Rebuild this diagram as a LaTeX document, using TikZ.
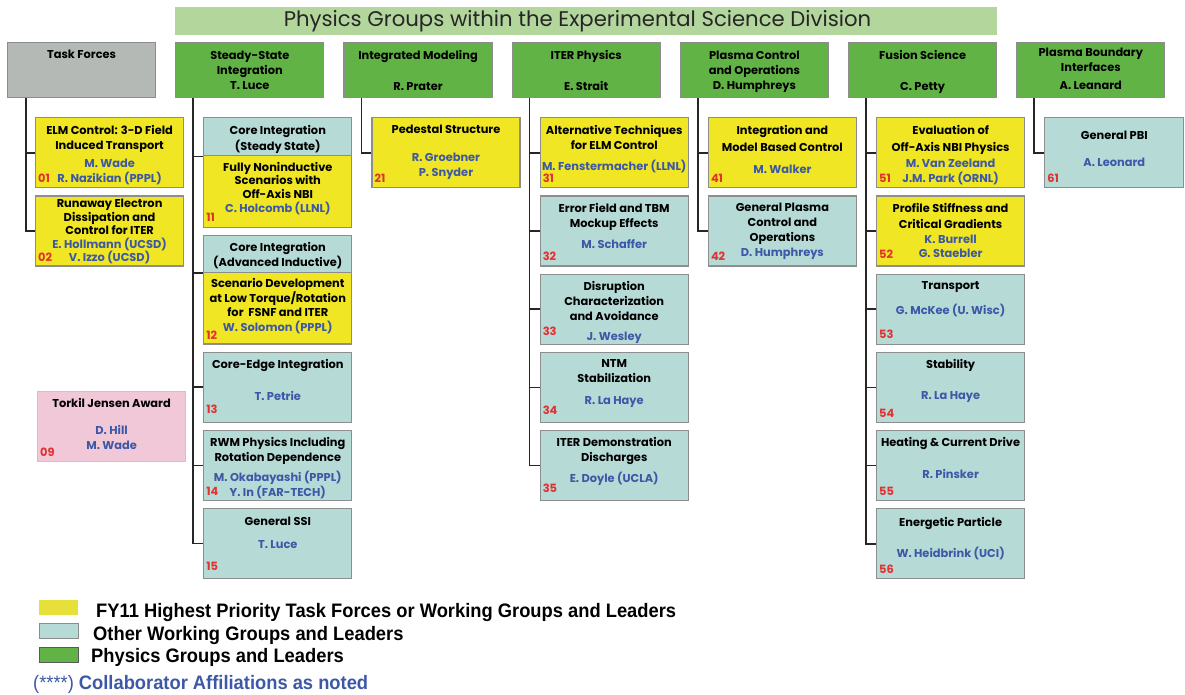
\documentclass[tikz,border=0pt]{standalone}
\usepackage{fontspec}
\setmainfont{Poppins}
\newfontfamily\narrowsans{Liberation Sans}[FakeStretch=0.94]
\usetikzlibrary{positioning}

\definecolor{grpgreen}{RGB}{98,179,70}
\definecolor{barlight}{RGB}{179,214,157}
\definecolor{tfyellow}{RGB}{240,230,35}
\definecolor{keyyellow}{RGB}{232,224,58}
\definecolor{wgcyan}{RGB}{182,218,214}
\definecolor{tfgray}{RGB}{180,185,182}
\definecolor{awpink}{RGB}{240,200,216}
\definecolor{boxline}{RGB}{141,141,141}
\definecolor{nameblue}{RGB}{60,88,166}
\definecolor{numred}{RGB}{227,48,48}

\begin{document}
\begin{tikzpicture}[x=1pt, y=-1pt, font=\fontsize{11.4}{15}\selectfont\bfseries,
	node distance = 7pt and 19pt, % vertical and horizontal
	grp/.style = {rectangle, draw=boxline, line width=1.2pt, fill=grpgreen,
		minimum width=148pt, minimum height=55pt, inner sep=0pt},
	wg/.style = {rectangle, draw=boxline, line width=1.2pt,
		minimum width=148pt, minimum height=70pt, inner sep=0pt},
	ttl/.style = {anchor=north, align=center, inner sep=0pt, yshift=-7.5pt},
	tight/.style = {font=\fontsize{11.4}{13.5}\selectfont\bfseries},
	num/.style = {anchor=base west, text=numred, inner sep=0pt, xshift=3pt, yshift=6pt},
	link/.style = {draw=black!85, line width=1.5pt},
	swatch/.style = {rectangle, minimum width=39pt, minimum height=15pt, inner sep=0pt, anchor=north west},
	key/.style = {anchor=base west, inner sep=0pt, font=\narrowsans\fontsize{19.5}{21}\selectfont\bfseries}
	]

	\useasboundingbox (0,0) rectangle (1185,694);

	% --- Title ---
	\node[fill=barlight, minimum width=822pt, minimum height=28pt, inner sep=0pt,
		font=\fontsize{21.2}{24}\selectfont\mdseries, text=black!85] (title) at (586,21)
		{Physics Groups within the Experimental Science Division\hspace*{17pt}};

	% --- Physics groups ---
	\node[grp, fill=tfgray, anchor=north west, label={[ttl]north:Task Forces}] (tf) at (7,42) {};
	\node[grp, right=of tf, label={[ttl, yshift=-1pt]north:{Steady-State\\ Integration\\ T. Luce}}] (ss) {};
	\node[grp, right=of ss, label={[ttl, yshift=-1pt]north:{Integrated Modeling\\[16pt] R. Prater}}] (im) {};
	\node[grp, right=of im, label={[ttl, yshift=-1pt]north:{ITER Physics\\[16pt] E. Strait}}] (iter) {};
	\node[grp, right=of iter, label={[ttl, yshift=-1pt]north:{Plasma Control\\ and Operations\\ D. Humphreys}}] (pco) {};
	\node[grp, right=of pco, label={[ttl, yshift=-1pt]north:{Fusion Science\\[16pt] C. Petty}}] (fs) {};
	\node[grp, right=of fs, label={[ttl, yshift=2pt]north:{Plasma Boundary\\ Interfaces\\[3.5pt] A. Leanard}}] (pbi) {};

	% --- Task forces ---
	\node[wg, fill=tfyellow, below right=19pt and 28pt of tf.south west,
		label={[ttl]north:{ELM Control: 3-D Field\\ Induced Transport\\[3pt] \textcolor{nameblue}{M. Wade}\\ \textcolor{nameblue}{R. Nazikian (PPPL)}}},
		label={[num]south west:01}] (elm) {};
	\node[wg, fill=tfyellow, below=of elm,
		label={[ttl, tight, yshift=4pt]north:{Runaway Electron\\ Dissipation and\\ Control for ITER\\ \textcolor{nameblue}{E. Hollmann (UCSD)}\\ \textcolor{nameblue}{V. Izzo (UCSD)}}},
		label={[num, yshift=-1pt]south west:02}] (rea) {};
	\node[wg, fill=awpink, draw=gray!45, anchor=north west,
		label={[ttl]north:{Torkil Jensen Award\\[12pt] \textcolor{nameblue}{D. Hill}\\ \textcolor{nameblue}{M. Wade}}},
		label={[num]south west:09}] (tja) at (37,391) {};

	% --- Steady-State Integration ---
	\node[wg, fill=wgcyan, minimum height=38pt, below right=19pt and 28pt of ss.south west,
		label={[ttl]north:{Core Integration\\[1pt] (Steady State)}}] (cssi) {};
	\node[wg, fill=tfyellow, minimum height=71.5pt, below=-1.2pt of cssi,
		label={[ttl, tight, yshift=1pt]north:{Fully Noninductive\\ Scenarios with\\ Off-Axis NBI\\[1pt] \textcolor{nameblue}{C. Holcomb (LLNL)}}},
		label={[num]south west:11}] (fni) {};
	\node[wg, fill=wgcyan, minimum height=37pt, below=of fni,
		label={[ttl]north:{Core Integration\\ (Advanced Inductive)}}] (cadv) {};
	\node[wg, fill=tfyellow, minimum height=71.5pt, below=-1.2pt of cadv,
		label={[ttl, tight, yshift=1pt]north:{Scenario Development\\ at Low Torque/Rotation\\ for~ FSNF and ITER\\[2pt] \textcolor{nameblue}{W. Solomon (PPPL)}}},
		label={[num, yshift=-1pt]south west:12}] (sdev) {};
	\node[wg, fill=wgcyan, below=of sdev,
		label={[ttl]north:{Core-Edge Integration\\[17pt] \textcolor{nameblue}{T. Petrie}}},
		label={[num, yshift=3pt]south west:13}] (cedge) {};
	\node[wg, fill=wgcyan, below=of cedge,
		label={[ttl]north:{RWM Physics Including\\ Rotation Dependence\\[5pt] \textcolor{nameblue}{M. Okabayashi (PPPL)}\\ \textcolor{nameblue}{Y. In (FAR-TECH)}}},
		label={[num]south west:14}] (rwm) {};
	\node[wg, fill=wgcyan, below=of rwm,
		label={[ttl, yshift=-1.5pt]north:{General SSI\\[8pt] \textcolor{nameblue}{T. Luce}}},
		label={[num, yshift=3pt]south west:15}] (gssi) {};

	% --- Integrated Modeling ---
	\node[wg, fill=tfyellow, below right=19pt and 28pt of im.south west,
		label={[ttl]north:{Pedestal Structure\\[13pt] \textcolor{nameblue}{R. Groebner}\\ \textcolor{nameblue}{P. Snyder}}},
		label={[num]south west:21}] (ped) {};

	% --- ITER Physics ---
	\node[wg, fill=tfyellow, below right=19pt and 28pt of iter.south west,
		label={[ttl]north:{Alternative Techniques\\ for ELM Control\\[6pt] \textcolor{nameblue}{M. Fenstermacher (LLNL)}}},
		label={[num]south west:31}] (alt) {};
	\node[wg, fill=wgcyan, below=of alt,
		label={[ttl]north:{Error Field and TBM\\ Mockup Effects\\[6pt] \textcolor{nameblue}{M. Schaffer}}},
		label={[num]south west:32}] (eft) {};
	\node[wg, fill=wgcyan, below=of eft,
		label={[ttl]north:{Disruption\\ Characterization\\ and Avoidance\\[5pt] \textcolor{nameblue}{J. Wesley}}},
		label={[num, yshift=3pt]south west:33}] (dis) {};
	\node[wg, fill=wgcyan, below=of dis,
		label={[ttl]north:{NTM\\ Stabilization\\[7pt] \textcolor{nameblue}{R. La Haye}}},
		label={[num, yshift=3pt]south west:34}] (ntm) {};
	\node[wg, fill=wgcyan, below=of ntm,
		label={[ttl]north:{ITER Demonstration\\ Discharges\\[6pt] \textcolor{nameblue}{E. Doyle (UCLA)}}},
		label={[num, yshift=3pt]south west:35}] (idd) {};

	% --- Plasma Control and Operations ---
	\node[wg, fill=tfyellow, below right=19pt and 28pt of pco.south west,
		label={[ttl]north:{Integration and\\[2pt] Model Based Control\\[7pt] \textcolor{nameblue}{M. Walker}}},
		label={[num]south west:41}] (mbc) {};
	\node[wg, fill=wgcyan, below=of mbc,
		label={[ttl]north:{General Plasma\\ Control and\\ Operations\\ \textcolor{nameblue}{D. Humphreys}}},
		label={[num]south west:42}] (gpc) {};

	% --- Fusion Science ---
	\node[wg, fill=tfyellow, below right=19pt and 28pt of fs.south west,
		label={[ttl]north:{Evaluation of\\[2pt] Off-Axis NBI Physics\\[1pt] \textcolor{nameblue}{M. Van Zeeland}\\ \textcolor{nameblue}{J.M. Park (ORNL)}}},
		label={[num]south west:51}] (eval) {};
	\node[wg, fill=tfyellow, below=of eval,
		label={[ttl]north:{Profile Stiffness and\\[1pt] Critical Gradients\\ \textcolor{nameblue}{K. Burrell}\\[-1pt] \textcolor{nameblue}{G. Staebler}}},
		label={[num, yshift=2pt]south west:52}] (psc) {};
	\node[wg, fill=wgcyan, below=of psc,
		label={[ttl]north:{Transport\\[10pt] \textcolor{nameblue}{G. McKee (U. Wisc)}}},
		label={[num]south west:53}] (trn) {};
	\node[wg, fill=wgcyan, below=of trn,
		label={[ttl]north:{Stability\\[16pt] \textcolor{nameblue}{R. La Haye}}},
		label={[num]south west:54}] (stab) {};
	\node[wg, fill=wgcyan, below=of stab,
		label={[ttl]north:{Heating \& Current Drive\\[17pt] \textcolor{nameblue}{R. Pinsker}}},
		label={[num]south west:55}] (hcd) {};
	\node[wg, fill=wgcyan, below=of hcd,
		label={[ttl, yshift=-1.5pt]north:{Energetic Particle\\[16pt] \textcolor{nameblue}{W. Heidbrink (UCI)}}},
		label={[num]south west:56}] (ep) {};

	% --- Plasma Boundary Interfaces ---
	\node[wg, fill=wgcyan, minimum width=139pt, below right=19pt and 28pt of pbi.south west,
		label={[ttl, yshift=-6pt]north:{General PBI\\[12pt] \textcolor{nameblue}{A. Leonard}}},
		label={[num]south west:61}] (gpbi) {};

	% --- Connectors ---
	\draw[link] ([xshift=19pt]tf.south west) |- (elm.west);
	\draw[link] ([xshift=19pt]tf.south west) |- (rea.west);

	\draw[link] ([xshift=18pt]ss.south west) |- (cssi.south west);
	\draw[link] ([xshift=18pt]ss.south west) |- (cadv.south west);
	\draw[link] ([xshift=18pt]ss.south west) |- (cedge.west);
	\draw[link] ([xshift=18pt]ss.south west) |- (rwm.west);
	\draw[link] ([xshift=18pt]ss.south west) |- (gssi.west);

	\draw[link] ([xshift=18pt]im.south west) |- (ped.west);

	\draw[link] ([xshift=18pt]iter.south west) |- (alt.west);
	\draw[link] ([xshift=18pt]iter.south west) |- (eft.west);
	\draw[link] ([xshift=18pt]iter.south west) |- (dis.west);
	\draw[link] ([xshift=18pt]iter.south west) |- (ntm.west);
	\draw[link] ([xshift=18pt]iter.south west) |- (idd.west);

	\draw[link] ([xshift=18pt]pco.south west) |- (mbc.west);
	\draw[link] ([xshift=18pt]pco.south west) |- (gpc.west);

	\draw[link] ([xshift=18pt]fs.south west) |- (eval.west);
	\draw[link] ([xshift=18pt]fs.south west) |- (psc.west);
	\draw[link] ([xshift=18pt]fs.south west) |- (trn.west);
	\draw[link] ([xshift=18pt]fs.south west) |- (stab.west);
	\draw[link] ([xshift=18pt]fs.south west) |- (hcd.west);
	\draw[link] ([xshift=18pt]fs.south west) |- (ep.west);

	\draw[link] ([xshift=18pt]pbi.south west) |- (gpbi.west);

	% --- Legend ---
	\node[swatch, fill=keyyellow] (kyel) at (39,600) {};
	\node[swatch, fill=wgcyan, draw=boxline, line width=1pt] (kcyan) at (39,623) {};
	\node[swatch, fill=grpgreen, draw=black!65, line width=1pt] (kgreen) at (39,647) {};
	\node[key] (tyel) at (96,617) {FY11 Highest Priority Task Forces or Working Groups and Leaders};
	\node[key] (tcyan) at (93,640) {Other Working Groups and Leaders};
	\node[key] (tgreen) at (91,662) {Physics Groups and Leaders};
	\node[key, text=nameblue] (taff) at (33,689) {\mdseries(****)\hspace{5pt}\bfseries Collaborator Affiliations as noted};

\end{tikzpicture}
\end{document}
